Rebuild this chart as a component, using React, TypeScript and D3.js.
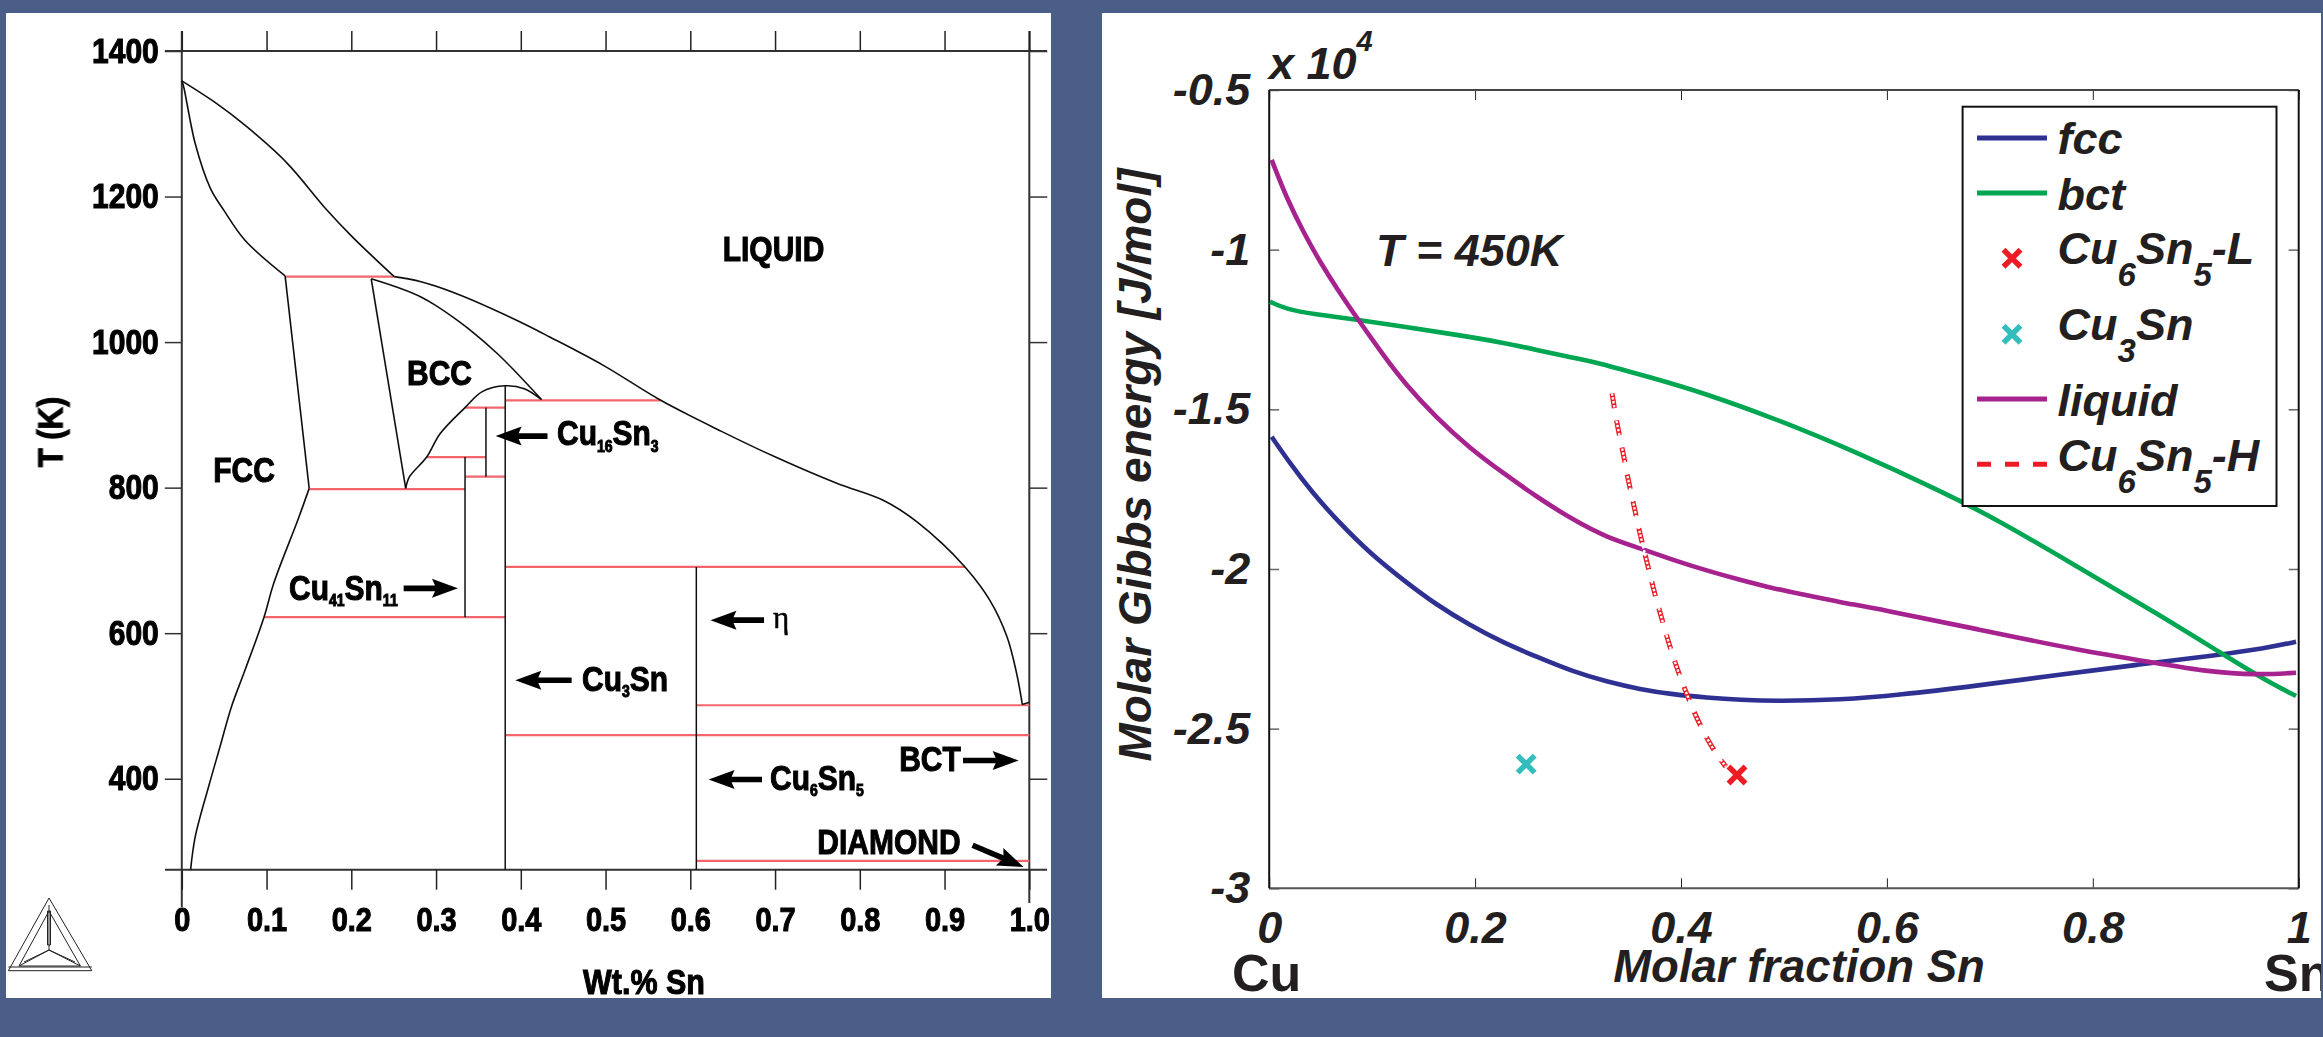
import React, { useEffect, useRef } from "react";
import * as d3 from "d3";

type Pt = [number, number];

// ---- left panel: Cu-Sn phase diagram, [wt fraction Sn, T in K]
const wtTicks = [0, 0.1, 0.2, 0.3, 0.4, 0.5, 0.6, 0.7, 0.8, 0.9, 1];
const tempTicks = [400, 600, 800, 1000, 1200, 1400];

const liquidusHigh: Pt[] = [
  [0, 1359], [0.0384, 1330], [0.0745, 1298], [0.1242, 1246], [0.1693, 1184], [0.2009, 1145], [0.2506, 1090],
];
const liquidusLow: Pt[] = [
  [0.2506, 1090], [0.2822, 1083], [0.3273, 1065], [0.395, 1030], [0.4342, 1007], [0.4974, 968], [0.5651, 920],
  [0.6374, 877], [0.7005, 842], [0.7728, 806], [0.827, 783], [0.8675, 753], [0.9241, 691], [0.9535, 645],
  [0.9737, 595], [0.985, 545], [0.9918, 502],
];
const tinEnd: Pt[] = [[0.9918, 502], [1, 505]];
const solidusFcc: Pt[] = [
  [0, 1359], [0.002, 1352], [0.0158, 1273], [0.0339, 1211], [0.0497, 1181], [0.0745, 1140], [0.1219, 1091],
];
const fccUpper: Pt[] = [[0.1219, 1091], [0.1332, 975], [0.1503, 799]];
const fccLower: Pt[] = [
  [0.1503, 799], [0.1377, 758], [0.1083, 668], [0.097, 622], [0.0745, 549], [0.0586, 499], [0.0451, 444],
  [0.0316, 389], [0.0158, 320], [0.0104, 275],
];
const bccLeft: Pt[] = [[0.2235, 1087], [0.2642, 799]];
const bccUpper: Pt[] = [[0.2235, 1087], [0.2822, 1062], [0.3273, 1028], [0.3725, 984], [0.4244, 921]];
const bccDome: Pt[] = [
  [0.2642, 799], [0.2687, 815], [0.289, 842], [0.3047, 874], [0.3342, 910], [0.3545, 932], [0.3816, 940],
  [0.4041, 936], [0.4244, 921],
];
// [T, from, to]
const tieLines: [number, number, number][] = [
  [1090, 0.1219, 0.2506], [920, 0.3816, 0.5651], [910, 0.3342, 0.3816], [842, 0.289, 0.3589], [815, 0.3342, 0.3816],
  [798, 0.1503, 0.3342], [691, 0.3816, 0.9241], [622, 0.097, 0.3816], [501, 0.6071, 1], [460, 0.3816, 1],
  [287, 0.6071, 1],
];
// [wt, T top, T bottom]
const compoundLines: [number, number, number][] = [
  [0.3589, 910, 815], [0.3342, 842, 622], [0.3816, 940, 275], [0.6071, 691, 275],
];
// [tail wt, tail T, tip wt, tip T]
const phaseArrows: [number, number, number, number][] = [
  [0.4315, 870.8, 0.3703, 870.8], [0.2618, 661.6, 0.3259, 661.6], [0.46, 535.4, 0.3935, 535.4],
  [0.687, 617.9, 0.6238, 617.9], [0.6846, 398.9, 0.6216, 398.9], [0.9218, 425, 0.9874, 425],
  [0.9331, 308.6, 0.9932, 278.8],
];

// ---- right panel: Gibbs energy, [molar fraction Sn, G x 10^4 J/mol]
const fractionTicks = [0, 0.2, 0.4, 0.6, 0.8, 1];
const energyTicks = [-0.5, -1, -1.5, -2, -2.5, -3];

const fcc: Pt[] = [
  [0.0024, -1.586], [0.0202, -1.669], [0.0413, -1.758], [0.0656, -1.847], [0.0979, -1.951], [0.1303, -2.035],
  [0.1627, -2.113], [0.195, -2.176], [0.2274, -2.231], [0.2598, -2.275], [0.2954, -2.322], [0.3278, -2.353],
  [0.3602, -2.377], [0.3925, -2.393], [0.425, -2.403], [0.4573, -2.41], [0.4961, -2.414], [0.5544, -2.41],
  [0.6115, -2.395], [0.6886, -2.365], [0.7658, -2.332], [0.8429, -2.3], [0.9202, -2.27], [0.9664, -2.249],
  [0.9974, -2.228],
];
const bct: Pt[] = [
  [0.0008, -1.163], [0.017, -1.187], [0.0428, -1.202], [0.0865, -1.22], [0.1303, -1.241], [0.1789, -1.265],
  [0.2274, -1.291], [0.2598, -1.314], [0.2922, -1.337], [0.3158, -1.351], [0.3734, -1.403], [0.4185, -1.445],
  [0.4957, -1.534], [0.5729, -1.638], [0.65, -1.753], [0.7079, -1.846], [0.785, -1.993], [0.8622, -2.139],
  [0.9278, -2.27], [0.9664, -2.346], [0.9974, -2.398],
];
const liquid: Pt[] = [
  [0.0024, -0.719], [0.017, -0.839], [0.0331, -0.944], [0.0493, -1.038], [0.0656, -1.121], [0.0865, -1.22],
  [0.1108, -1.33], [0.1303, -1.414], [0.1627, -1.528], [0.195, -1.622], [0.2274, -1.7], [0.2598, -1.774],
  [0.2954, -1.847], [0.3278, -1.901], [0.3602, -1.935], [0.3925, -1.972], [0.425, -2.005], [0.4573, -2.034],
  [0.4897, -2.061], [0.5221, -2.082], [0.5544, -2.104], [0.5921, -2.125], [0.6886, -2.189], [0.785, -2.254],
  [0.8622, -2.295], [0.9124, -2.322], [0.9586, -2.332], [0.9974, -2.325],
];
const cu6sn5H: Pt[] = [
  [0.333, -1.45], [0.3382, -1.554], [0.344, -1.638], [0.3488, -1.724], [0.3547, -1.807], [0.3602, -1.892],
  [0.3667, -1.975], [0.3731, -2.061], [0.3803, -2.144], [0.3877, -2.228], [0.3958, -2.309], [0.4055, -2.392],
  [0.4143, -2.461], [0.4291, -2.557], [0.4435, -2.619],
];
const cu6sn5L: Pt = [0.4544, -2.645];
const cu3sn: Pt = [0.2496, -2.611];

const BG = "#4b5e88";
const BLUE = "#2e3192";
const GREEN = "#00a651";
const PURPLE = "#a6228f";
const RED = "#ed1c24";
const TEAL = "#33bdbd";
const TIE = "#f4666e";
const SANS = "'Liberation Sans', Arial, sans-serif";
const STRETCH = 1.15; // the left image is a little taller than wide

const xWt = d3.scaleLinear().domain([0, 1]).range([181.8, 1029.3]);
const yT = d3.scaleLinear().domain([275, 1400]).range([869.7, 51]);
const xFrac = d3.scaleLinear().domain([0, 1]).range([1269.2, 2298.7]);
const yG = d3.scaleLinear().domain([-0.5, -3]).range([90, 888.3]);

const phaseLine = d3.line<Pt>().x((d) => xWt(d[0])).y((d) => yT(d[1])).curve(d3.curveCatmullRom);
const energyLine = d3.line<Pt>().x((d) => xFrac(d[0])).y((d) => yG(d[1])).curve(d3.curveBasis);
const crossPath = d3.symbol(d3.symbolX, 190)() as string;

function arrowPath(a: number, b: number, c: number, d: number) {
  const x0 = xWt(a), y0 = yT(b), x1 = xWt(c), y1 = yT(d);
  const len = Math.hypot(x1 - x0, y1 - y0);
  const ux = (x1 - x0) / len, uy = (y1 - y0) / len;
  const p = (along: number, side: number) => `${x0 + ux * along - uy * side},${y0 + uy * along + ux * side}`;
  const neck = len - 26;
  return `M${p(0, -2.8)}L${p(neck + 3, -2.8)}L${p(neck, -9.5)}L${p(len, 0)}L${p(neck, 9.5)}L${p(neck + 3, 2.8)}L${p(0, 2.8)}Z`;
}

// text with subscripts: parts at even index are normal, odd index are subscript
function Formula({ x, y, parts, size, subSize, subDy, style, anchor }: any) {
  return (
    <text x={x} y={y} fontSize={size} textAnchor={anchor} style={style}>
      {parts.map((p: string, i: number) => {
        const isSub = i % 2 === 1;
        const dy = i === 0 ? 0 : isSub ? subDy : -subDy;
        return (
          <tspan key={i} dy={dy} fontSize={isSub ? subSize : size}>
            {p}
          </tspan>
        );
      })}
    </text>
  );
}

const boldLeft = { fontFamily: SANS, fontWeight: 700, fill: "#000", stroke: "#000", strokeWidth: 0.9 };
const boldItalic = { fontFamily: SANS, fontWeight: 700, fontStyle: "italic", fill: "#231f20" };

// bold label of the left image, anchored at its baseline
function Tall({ x, y, children }: any) {
  return <g transform={`translate(${x},${y}) scale(1,${STRETCH})`}>{children}</g>;
}

const legendRows = [
  { parts: ["fcc"], y: 154, line: BLUE, mid: 138 },
  { parts: ["bct"], y: 210, line: GREEN, mid: 193 },
  { parts: ["Cu", "6", "Sn", "5", "-L"], y: 264, mark: RED, mid: 258.3 },
  { parts: ["Cu", "3", "Sn"], y: 340, mark: TEAL, mid: 334.3 },
  { parts: ["liquid"], y: 415.7, line: PURPLE, mid: 399 },
  { parts: ["Cu", "6", "Sn", "5", "-H"], y: 470.7, line: RED, mid: 464.3, dash: "14 14" },
];

export default function App() {
  const ref = useRef<SVGSVGElement>(null);

  useEffect(() => {
    const svg = d3.select(ref.current);
    const leftAxes = svg.select(".left-axes");
    const axes = svg.select(".axes");
    leftAxes.selectAll("*").remove();
    axes.selectAll("*").remove();

    const styleAxis = (g: any, stroke: string, width: number) => {
      g.select(".domain").remove();
      g.selectAll("line").attr("stroke", stroke).attr("stroke-width", width);
    };
    const styleLeftText = (sel: any, size: number) =>
      sel.attr("font-size", size).attr("font-family", SANS).attr("font-weight", 700)
        .attr("fill", "#000").attr("stroke", "#000").attr("stroke-width", 0.9)
        .attr("transform", `scale(1,${STRETCH})`);

    // phase diagram axes
    leftAxes.append("g").attr("transform", `translate(0,${yT(275)})`)
      .call(d3.axisBottom(xWt).tickValues(wtTicks).tickSize(20).tickPadding(12.4).tickFormat((d: any) => (d === 0 ? "0" : d3.format(".1f")(d))) as any)
      .call(styleAxis, "#222", 1.5)
      .selectAll("text").call(styleLeftText, 29);
    leftAxes.append("g").attr("transform", `translate(0,${yT(1400)})`)
      .call(d3.axisTop(xWt).tickValues(wtTicks).tickSize(20).tickFormat(() => "") as any)
      .call(styleAxis, "#222", 1.5);
    leftAxes.append("g").attr("transform", `translate(${xWt(0)},0)`)
      .call(d3.axisLeft(yT).tickValues(tempTicks).tickSize(17).tickPadding(6).tickFormat(d3.format("d") as any) as any)
      .call(styleAxis, "#333", 1.5)
      .selectAll("text").call(styleLeftText, 30);
    leftAxes.append("g").attr("transform", `translate(${xWt(1)},0)`)
      .call(d3.axisRight(yT).tickValues(tempTicks).tickSize(18).tickFormat(() => "") as any)
      .call(styleAxis, "#333", 1.5);

    // energy axes
    axes.append("g").attr("transform", `translate(0,${yG(-3)})`)
      .call(d3.axisBottom(xFrac).tickValues(fractionTicks).tickSize(-10).tickPadding(23).tickFormat((d: any) => String(d)) as any)
      .call(styleAxis, "#222", 1)
      .selectAll("text").attr("font-size", 45).attr("font-family", SANS).attr("font-weight", 700)
      .attr("font-style", "italic").attr("fill", "#231f20");
    axes.append("g").attr("transform", `translate(0,${yG(-0.5)})`)
      .call(d3.axisTop(xFrac).tickValues(fractionTicks).tickSize(-10).tickFormat(() => "") as any)
      .call(styleAxis, "#222", 1);
    axes.append("g").attr("transform", `translate(${xFrac(0)},0)`)
      .call(d3.axisLeft(yG).tickValues(energyTicks).tickSize(-10).tickPadding(19).tickFormat((d: any) => String(d)) as any)
      .call(styleAxis, "#666", 1.5)
      .selectAll("text").attr("font-size", 45).attr("font-family", SANS).attr("font-weight", 700)
      .attr("font-style", "italic").attr("fill", "#231f20");
    axes.append("g").attr("transform", `translate(${xFrac(1)},0)`)
      .call(d3.axisRight(yG).tickValues(energyTicks).tickSize(-10).tickFormat(() => "") as any)
      .call(styleAxis, "#666", 1.5);
  }, []);

  return (
    <svg
      ref={ref}
      width={2323}
      height={1037}
      style={{ position: "absolute", left: 0, top: 0, display: "block" }}
    >
      <defs>
        <clipPath id="right-panel">
          <rect x={1102} y={13} width={1219} height={985} />
        </clipPath>
        <filter id="soft" x="-2%" y="-2%" width="104%" height="104%">
          <feGaussianBlur stdDeviation={0.6} />
        </filter>
      </defs>
      <rect width={2323} height={1037} fill={BG} />
      <rect x={6} y={13} width={1045} height={985} fill="#fff" />
      <rect x={1102} y={13} width={1219} height={985} fill="#fff" />

      <g filter="url(#soft)">
        {/* frame of the phase diagram */}
        <g stroke="#333" strokeWidth={2} fill="none">
          <line x1={165} x2={1047} y1={yT(1400)} y2={yT(1400)} />
          <line x1={165} x2={1047} y1={yT(275)} y2={yT(275)} />
          <line x1={xWt(0)} x2={xWt(0)} y1={31} y2={907} />
          <line x1={xWt(1)} x2={xWt(1)} y1={31} y2={903} />
        </g>
        <g className="left-axes" />

        {tieLines.map(([t, a, b], i) => (
          <line key={i} x1={xWt(a)} x2={xWt(b)} y1={yT(t)} y2={yT(t)} stroke={TIE} strokeWidth={2.2} />
        ))}
        {compoundLines.map(([w, t0, t1], i) => (
          <line key={i} x1={xWt(w)} x2={xWt(w)} y1={yT(t0)} y2={yT(t1)} stroke="#111" strokeWidth={1.5} />
        ))}
        {[liquidusHigh, liquidusLow, tinEnd, solidusFcc, fccUpper, fccLower, bccLeft, bccUpper, bccDome].map((d, i) => (
          <path key={i} d={phaseLine(d) as string} fill="none" stroke="#111" strokeWidth={1.6} />
        ))}
        {phaseArrows.map((a, i) => (
          <path key={i} d={arrowPath(a[0], a[1], a[2], a[3])} fill="#000" />
        ))}

        <g style={boldLeft} textAnchor="middle">
          <Tall x={244} y={482}><text fontSize={30}>FCC</text></Tall>
          <Tall x={439.5} y={385}><text fontSize={30}>BCC</text></Tall>
          <Tall x={773.5} y={261}><text fontSize={30}>LIQUID</text></Tall>
          <Tall x={930} y={770.7}><text fontSize={30}>BCT</text></Tall>
          <Tall x={889} y={854}><text fontSize={30}>DIAMOND</text></Tall>
          <Tall x={644} y={994}><text fontSize={30.5}>Wt.% Sn</text></Tall>
          <text transform="translate(62,432) rotate(-90) scale(1,1.15)" fontSize={31}>T (K)</text>
        </g>
        <Tall x={557} y={445}>
          <Formula x={0} y={0} parts={["Cu", "16", "Sn", "3"]} size={30} subSize={14} subDy={6} style={boldLeft} />
        </Tall>
        <Tall x={289} y={600}>
          <Formula x={0} y={0} parts={["Cu", "41", "Sn", "11"]} size={30} subSize={14} subDy={5} style={boldLeft} />
        </Tall>
        <Tall x={582} y={691}>
          <Formula x={0} y={0} parts={["Cu", "3", "Sn"]} size={30} subSize={14} subDy={5} style={boldLeft} />
        </Tall>
        <Tall x={770} y={790}>
          <Formula x={0} y={0} parts={["Cu", "6", "Sn", "5"]} size={30} subSize={14} subDy={5} style={boldLeft} />
        </Tall>
        <text x={773} y={628} fontSize={31} fontFamily="'Liberation Serif', serif" fill="#000" stroke="#000" strokeWidth={0.5}>η</text>

        {/* Thermo-Calc logo */}
        <g fill="none" stroke="#222" strokeWidth={1}>
          <path d="M49,898L8.4,970.7L91.8,970.7Z" />
          <path d="M49,911L19,966L80.4,966Z" />
          <path d="M8.4,967L91.8,967" />
          <path d="M49,905L49,950L19,966M49,950L80.4,966" />
          <path d="M47.5,911L47.5,945L50.5,945L50.5,911Z" />
          <path d="M49,950L24,962M49,950L75,962" />
        </g>
      </g>

      <g className="axes" />

      {/* frame of the energy plot */}
      <line x1={xFrac(0)} x2={xFrac(1)} y1={yG(-0.5)} y2={yG(-0.5)} stroke="#444" strokeWidth={2} />
      <line x1={xFrac(0)} x2={xFrac(1)} y1={yG(-3)} y2={yG(-3)} stroke="#555" strokeWidth={2} />
      <line x1={xFrac(0)} x2={xFrac(0)} y1={yG(-0.5)} y2={yG(-3)} stroke="#111" strokeWidth={2} />
      <line x1={xFrac(1)} x2={xFrac(1)} y1={yG(-0.5)} y2={yG(-3)} stroke="#111" strokeWidth={2} />

      <path d={energyLine(fcc) as string} fill="none" stroke={BLUE} strokeWidth={4.6} />
      <path d={energyLine(bct) as string} fill="none" stroke={GREEN} strokeWidth={4.6} />
      <path d={energyLine(liquid) as string} fill="none" stroke={PURPLE} strokeWidth={4.6} />
      <path d={energyLine(cu6sn5H) as string} fill="none" stroke={RED} strokeWidth={5} strokeDasharray="15 12.5" />
      <path d={energyLine(cu6sn5H) as string} fill="none" stroke="#fff" strokeWidth={2.4} strokeDasharray="2.4 1.6" />
      <path d={crossPath} transform={`translate(${xFrac(cu6sn5L[0])},${yG(cu6sn5L[1])})`} fill="none" stroke={RED} strokeWidth={5.5} />
      <path d={crossPath} transform={`translate(${xFrac(cu3sn[0])},${yG(cu3sn[1])})`} fill="none" stroke={TEAL} strokeWidth={5.5} />

      <g style={boldItalic}>
        <text x={1376} y={266} fontSize={45}>T = 450K</text>
        <text transform="translate(1150.6,465) rotate(-90)" fontSize={46} textAnchor="middle">Molar Gibbs energy [J/mol]</text>
        <text x={1799} y={981.7} fontSize={45.5} textAnchor="middle">Molar fraction Sn</text>
        <text x={1269} y={79} fontSize={45}>
          x 10<tspan dy={-28} fontSize={29}>4</tspan>
        </text>
      </g>
      <g clipPath="url(#right-panel)" style={{ fontFamily: SANS, fontWeight: 700, fill: "#231f20" }}>
        <text x={1232} y={990.7} fontSize={52}>Cu</text>
        <text x={2264} y={990.7} fontSize={52}>Sn</text>
      </g>

      {/* legend */}
      <rect x={1962.6} y={106.7} width={313.9} height={399.3} fill="#fff" stroke="#111" strokeWidth={2} />
      {legendRows.map((r, i) => (
        <g key={i}>
          {r.line ? (
            <line x1={1977} x2={2047} y1={r.mid} y2={r.mid} stroke={r.line} strokeWidth={5} strokeDasharray={r.dash} />
          ) : (
            <path d={crossPath} transform={`translate(2012,${r.mid})`} fill="none" stroke={r.mark} strokeWidth={5.5} />
          )}
          <Formula x={2057.6} y={r.y} parts={r.parts} size={45} subSize={33} subDy={22} style={boldItalic} />
        </g>
      ))}
    </svg>
  );
}
